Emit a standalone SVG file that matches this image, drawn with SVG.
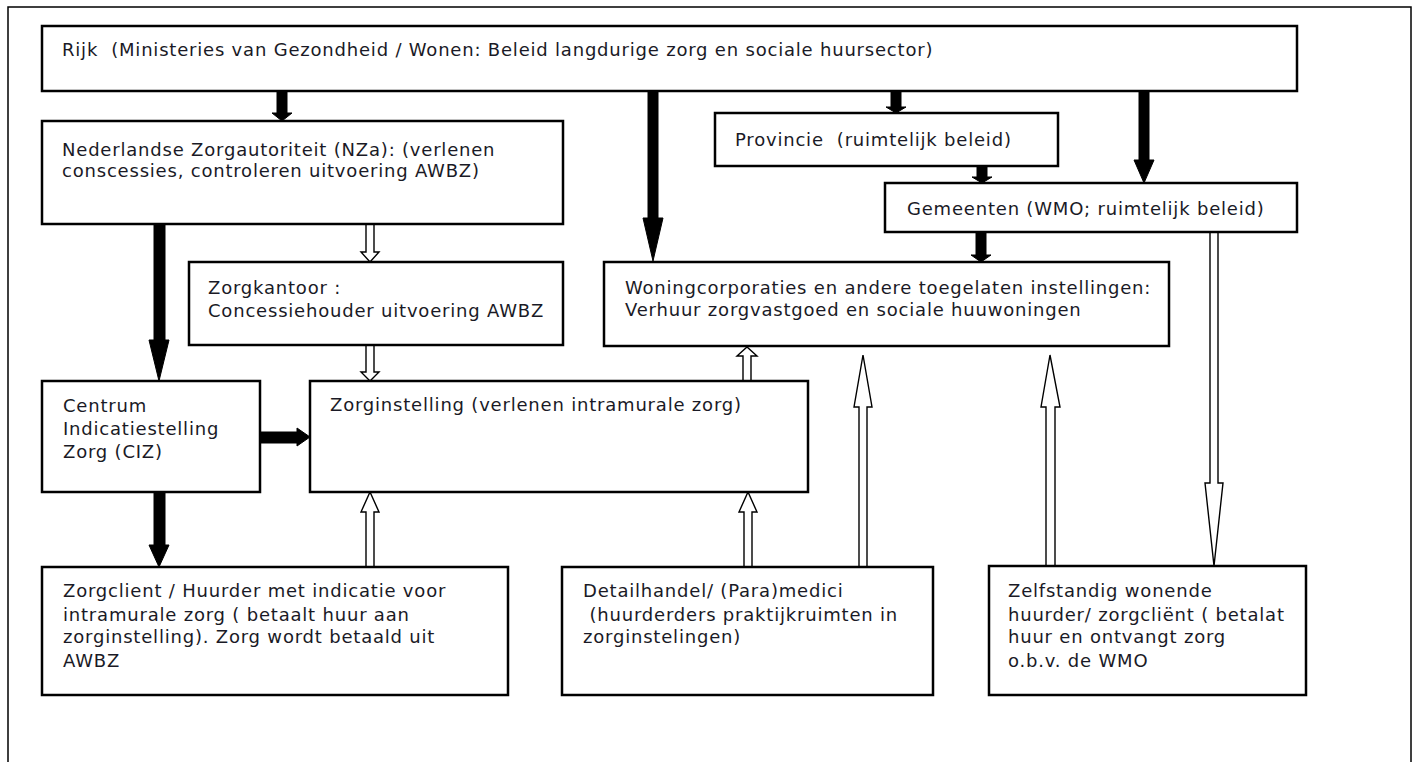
<svg xmlns="http://www.w3.org/2000/svg" width="1419" height="762" viewBox="0 0 1419 762">
<style>
.frame{fill:none;stroke:#000;stroke-width:1.5}
.box{fill:#fff;stroke:#000;stroke-width:2.5}
.t{font-family:"DejaVu Sans",Verdana,sans-serif;font-size:18px;letter-spacing:0.8px;fill:#1a1a26}
.solid{fill:#000;stroke:#000;stroke-width:1}
.hollow{fill:#fff;stroke:#000;stroke-width:1.4;stroke-linejoin:miter}
</style>
<rect width="1419" height="762" fill="#fff"/>
<rect class="frame" x="8" y="7" width="1403" height="800"/>

<g id="connectors">
  <!-- solid arrows -->
  <polygon class="solid" points="277,91 287,91 287,113 292,113 282,121 272,113 277,113"/>
  <polygon class="solid" points="648,91 658,91 658,218 663,218 653,261 643,218 648,218"/>
  <polygon class="solid" points="891,91 901,91 901,107 906,107 896,113 886,107 891,107"/>
  <polygon class="solid" points="1139,91 1149,91 1149,160 1154,160 1144,183 1134,160 1139,160"/>
  <polygon class="solid" points="977,166 987,166 987,177 992,177 982,183 972,177 977,177"/>
  <polygon class="solid" points="976,232 986,232 986,255 991,255 981,262 971,255 976,255"/>
  <polygon class="solid" points="154,224 165,224 165,340 169,340 159,381 149,340 154,340"/>
  <polygon class="solid" points="154,492 165,492 165,545 169,545 159,567 149,545 154,545"/>
  <polygon class="solid" points="260,432 297,432 297,428 310,437 297,446 297,443 260,443"/>
  <!-- hollow arrows -->
  <polygon class="hollow" points="366,224 374,224 374,252 379,252 370,262 361,252 366,252"/>
  <polygon class="hollow" points="366,345 374,345 374,372 379,372 370,381 361,372 366,372"/>
  <polygon class="hollow" points="366,567 374,567 374,512 379,512 370,492 361,512 366,512"/>
  <polygon class="hollow" points="743,381 751,381 751,356 757,356 747,347 737,356 743,356"/>
  <polygon class="hollow" points="744,567 752,567 752,512 757,512 748,492 739,512 744,512"/>
  <polygon class="hollow" points="859,567 867,567 867,407 872,407 863,355 854,407 859,407"/>
  <polygon class="hollow" points="1046,566 1055,566 1055,407 1060,407 1050,355 1041,407 1046,407"/>
  <polygon class="hollow" points="1210,232 1218,232 1218,483 1223,483 1214,566 1205,483 1210,483"/>
</g>

<g id="rijk">
  <rect class="box" x="42" y="26" width="1255" height="65"/>
  <text class="t" x="62" y="56" xml:space="preserve">Rijk  (Ministeries van Gezondheid / Wonen: Beleid langdurige zorg en sociale huursector)</text>
</g>
<g id="nza">
  <rect class="box" x="42" y="121" width="521" height="103"/>
  <text class="t" x="62" y="156">Nederlandse Zorgautoriteit (NZa): (verlenen</text>
  <text class="t" x="62" y="177">conscessies, controleren uitvoering AWBZ)</text>
</g>
<g id="provincie">
  <rect class="box" x="715" y="113" width="343" height="53"/>
  <text class="t" x="735" y="146" xml:space="preserve">Provincie  (ruimtelijk beleid)</text>
</g>
<g id="gemeenten">
  <rect class="box" x="885" y="183" width="412" height="49"/>
  <text class="t" x="907" y="215">Gemeenten (WMO; ruimtelijk beleid)</text>
</g>
<g id="zorgkantoor">
  <rect class="box" x="189" y="262" width="374" height="83"/>
  <text class="t" x="208" y="294">Zorgkantoor :</text>
  <text class="t" x="208" y="317">Concessiehouder uitvoering AWBZ</text>
</g>
<g id="woningcorporaties">
  <rect class="box" x="604" y="262" width="565" height="84"/>
  <text class="t" x="625" y="294">Woningcorporaties en andere toegelaten instellingen:</text>
  <text class="t" x="625" y="316">Verhuur zorgvastgoed en sociale huuwoningen</text>
</g>
<g id="ciz">
  <rect class="box" x="42" y="381" width="218" height="111"/>
  <text class="t" x="63" y="412">Centrum</text>
  <text class="t" x="63" y="435">Indicatiestelling</text>
  <text class="t" x="63" y="458">Zorg (CIZ)</text>
</g>
<g id="zorginstelling">
  <rect class="box" x="310" y="381" width="498" height="111"/>
  <text class="t" x="330" y="411">Zorginstelling (verlenen intramurale zorg)</text>
</g>
<g id="zorgclient">
  <rect class="box" x="42" y="567" width="466" height="128"/>
  <text class="t" x="63" y="597">Zorgclient / Huurder met indicatie voor</text>
  <text class="t" x="63" y="621">intramurale zorg ( betaalt huur aan</text>
  <text class="t" x="63" y="643">zorginstelling). Zorg wordt betaald uit</text>
  <text class="t" x="63" y="667">AWBZ</text>
</g>
<g id="detailhandel">
  <rect class="box" x="562" y="567" width="371" height="128"/>
  <text class="t" x="583" y="597">Detailhandel/ (Para)medici</text>
  <text class="t" x="583" y="621" xml:space="preserve"> (huurderders praktijkruimten in</text>
  <text class="t" x="583" y="643">zorginstelingen)</text>
</g>
<g id="zelfstandig">
  <rect class="box" x="989" y="566" width="317" height="129"/>
  <text class="t" x="1008" y="597">Zelfstandig wonende</text>
  <text class="t" x="1008" y="621">huurder/ zorgcliënt ( betalat</text>
  <text class="t" x="1008" y="643">huur en ontvangt zorg</text>
  <text class="t" x="1008" y="667">o.b.v. de WMO</text>
</g>
</svg>
